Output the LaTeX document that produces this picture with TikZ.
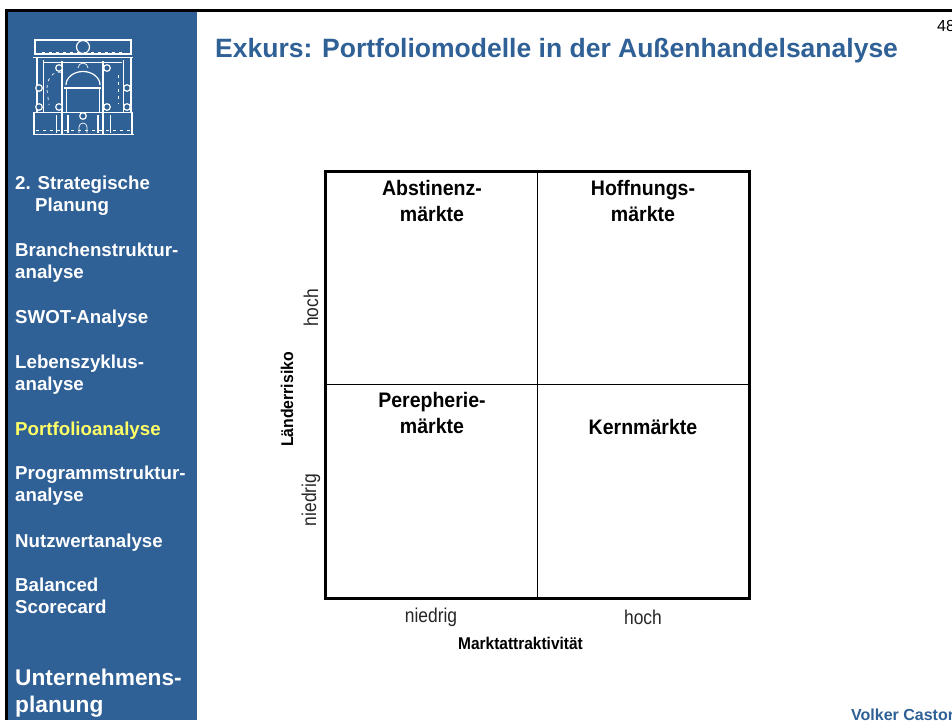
\documentclass[tikz,border=0pt]{standalone}
\usepackage{fontspec}
\setmainfont{Liberation Sans}
\definecolor{sidebar}{HTML}{2F6096}
\definecolor{hilite}{HTML}{FFFF66}
\newcommand{\fsz}[1]{\fontsize{#1pt}{#1pt}\selectfont}
\newcommand{\nar}[2]{\scalebox{#1}[1]{#2}}
\tikzset{
  navitem/.style={anchor=north west,inner sep=0pt,align=left,text=white,font=\fsz{18.7}\bfseries,text depth=0pt},
  celltitle/.style={align=center,inner sep=0pt,font=\fsz{21}\bfseries,text=black},
  scalelabel/.style={inner sep=0pt,font=\fsz{20},text=black!85},
  axislabel/.style={inner sep=0pt,font=\fsz{17}\bfseries,text=black},
  logoline/.style={draw=white,line width=1.2pt},
  logothin/.style={draw=white,line width=0.7pt},
  logodash/.style={draw=white,line width=0.7pt,dash pattern=on 3pt off 4pt}
}
\begin{document}
\begin{tikzpicture}[x=1pt,y=-1pt]
\useasboundingbox (0,0) rectangle (952,720);
\clip (0,0) rectangle (952,720);
\fill[white] (0,0) rectangle (952,720);
% sidebar and frame
\fill[sidebar] (6,11) rectangle (197,720);
\fill[black] (5,9) rectangle (952,11.5);
\fill[black] (5,9) rectangle (7.5,720);
% logo
\draw[logoline] (35,40) -- (131,40) -- (131,54) -- (35,54) -- cycle;
\draw[logoline,fill=sidebar] (83,47) circle (6.5);
\draw[logodash] (42,52.5) -- (125,52.5);
\draw[logoline] (33,57.5) -- (133,57.5);
\draw[logoline] (37,57.5) -- (37,112) (131,57.5) -- (131,112);
\draw[logothin] (43,60) -- (43,112) (123,60) -- (123,112);
\draw[logoline] (62,61) -- (62,134) (103,61) -- (103,134);
\draw[logothin] (44,62) -- (122,62);
\draw[logoline] (64,88) -- (101,88);
\draw[logoline] (66,85) arc[start angle=180,end angle=360,x radius=17,y radius=13.5];
\draw[logothin] (66,88) -- (66,112) (99,88) -- (99,112);
\draw[logodash] (47,88) arc[start angle=180,end angle=280,x radius=12,y radius=16];
\draw[logodash] (47,90) -- (49,105);
\draw[logodash] (118,75) -- (118,104);
\draw[logoline] (33,112.5) -- (133,112.5);
\draw[logoline] (34,112) -- (34,134) (132,112) -- (132,134);
\draw[logoline] (33,134.5) -- (134,134.5);
\draw[logodash] (36,130) -- (130,130);
\draw[logothin] (56,115) -- (56,133) (110,115) -- (110,133);
\draw[logoline] (68,115) -- (68,133) (98,115) -- (98,133);
\foreach \cx/\cy in {59/68,107/68,39/88,127/88,39/107,59/107,107/107,127/107,83/116}{
  \draw[logoline,fill=sidebar] (\cx,\cy) circle (3.3);
}
\draw[logothin] (79,133) -- (79,127) arc[start angle=180,end angle=360,radius=4] -- (87,133);
\draw[logothin] (78,68) arc[start angle=180,end angle=360,radius=5];
% navigation
\node[navitem] (n1) at (15,176) {2. Strategische\\[3.5pt]\hspace*{20pt}Planung};
\node[navitem] (n2) at (15,242.5) {Branchenstruktur-\\[3.5pt]analyse};
\node[navitem] (n3) at (15,310) {SWOT-Analyse};
\node[navitem] (n4) at (15,354.5) {Lebenszyklus-\\[3.5pt]analyse};
\node[navitem,text=hilite] (n5) at (15,421.5) {Portfolioanalyse};
\node[navitem] (n6) at (15,466) {Programmstruktur-\\[3.5pt]analyse};
\node[navitem] (n7) at (15,533.5) {Nutzwertanalyse};
\node[navitem] (n8) at (15,577.5) {Balanced\\[3.5pt]Scorecard};
\node[navitem,font=\fsz{22.7}\bfseries] (n9) at (15,669) {Unternehmens-\\[4.3pt]planung};
% title and corners
\node[anchor=base west,inner sep=0pt,text=sidebar,font=\fsz{26.5}\bfseries] (title) at (215,57) {Exkurs: Portfoliomodelle in der Außenhandelsanalyse};
\node[anchor=base west,inner sep=0pt,font=\fsz{16}] (page) at (937,31) {48};
\node[anchor=base west,inner sep=0pt,text=sidebar,font=\fsz{16}\bfseries] (author) at (851,720) {Volker Castor};
% matrix
\coordinate (tl) at (325,171);
\coordinate (tr) at (749,171);
\coordinate (bl) at (325,598.5);
\coordinate (br) at (749,598.5);
\coordinate (tm) at (537,171);
\coordinate (bm) at (537,598.5);
\coordinate (lm) at (325,384.5);
\coordinate (rm) at (749,384.5);
\draw[black,line width=0.9pt] (tm) -- (bm);
\draw[black,line width=0.9pt] (lm) -- (rm);
\draw[black,line width=3pt] (tl) -- (tr) -- (br) -- (bl) -- cycle;
\node[celltitle] (c1) at (432,201) {\nar{0.93}{Abstinenz-}\\[5pt]\nar{0.93}{märkte}};
\node[celltitle] (c2) at (643,201) {\nar{0.93}{Hoffnungs-}\\[5pt]\nar{0.93}{märkte}};
\node[celltitle] (c3) at (432,413) {\nar{0.93}{Perepherie-}\\[5pt]\nar{0.93}{märkte}};
\node[celltitle] (c4) at (643,427) {\nar{0.93}{Kernmärkte}};
% axis labels
\node[scalelabel] (xlo) at (431,617) {\nar{0.87}{niedrig}};
\node[scalelabel] (xhi) at (643,617) {\nar{0.87}{hoch}};
\node[axislabel] (xax) at (520.5,643) {\nar{0.91}{Marktattraktivität}};
\node[scalelabel,rotate=90] (yhi) at (311,308) {\nar{0.87}{hoch}};
\node[scalelabel,rotate=90] (ylo) at (311,500) {\nar{0.87}{niedrig}};
\node[axislabel,rotate=90] (yax) at (287,399.5) {\nar{0.93}{Länderrisiko}};
\end{tikzpicture}
\end{document}
